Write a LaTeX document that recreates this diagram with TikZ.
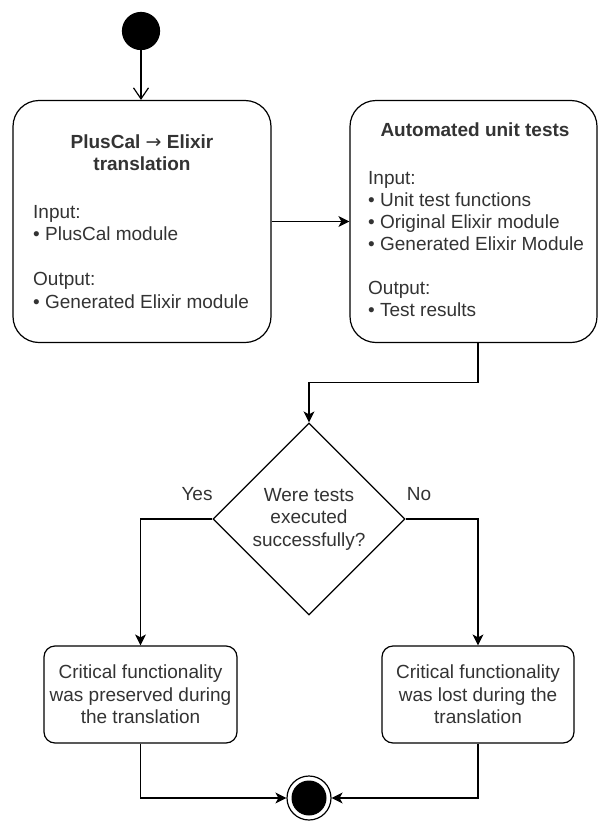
\documentclass[tikz,border=0pt]{standalone}
\usepackage{fontspec}
\setmainfont{Liberation Sans}
\newfontfamily\arrowfont{DejaVu Sans}
\usetikzlibrary{arrows.meta,shapes.geometric,calc}
\definecolor{txt}{HTML}{333333}
\tikzset{
  flow/.style={line width=1.2pt, draw=black},
  arr/.style={-{Stealth[length=11pt,width=11pt,inset=3pt]}},
  openarr/.style={-{Straight Barb[length=11pt,width=15pt]}},
  bigbox/.style={flow, rounded corners=26pt, minimum height=242pt, inner sep=0pt},
  smallbox/.style={flow, rounded corners=11pt, minimum width=193pt, minimum height=97pt,
    align=center, inner sep=0pt},
  decision/.style={flow, diamond, aspect=1, minimum width=192pt, minimum height=192pt,
    inner sep=0pt, align=center},
  title/.style={font=\fontsize{19}{22}\selectfont\bfseries, align=center, inner sep=0pt},
  % multi-line body text: the base anchor sits on the last line's baseline
  body/.style={align=left, anchor=base west, inner sep=0pt},
  lbl/.style={inner sep=0pt},
}
\begin{document}
\begin{tikzpicture}[x=1pt, y=-1pt, font=\fontsize{19}{22.5}\selectfont, text=txt]
\useasboundingbox[fill=white] (0,0) rectangle (598,822);

% start and end markers
\node[flow, circle, fill=black, minimum size=37pt, inner sep=0pt] (start) at (141,31) {};
\node[flow, circle, minimum size=44pt, inner sep=0pt,
  path picture={\fill[black] (path picture bounding box.center) circle (17.5pt);}] (end) at (309,798) {};

% translation step
\node[bigbox, minimum width=258pt] (trans) at (142,221.5) {};
\node[title] (transtitle) at (142,153) {PlusCal {\arrowfont\mdseries →} Elixir\\translation};
\node[body] (transbody) at (33,308) {Input:\\• PlusCal module\\[22.5pt]Output:\\• Generated Elixir module};

% unit test step
\node[bigbox, minimum width=247pt] (tests) at (473.5,221.5) {};
\node[title] (teststitle) at (475,130) {Automated unit tests};
\node[body, font=\fontsize{19}{22}\selectfont] (testsbody) at (368,316)
  {Input:\\• Unit test functions\\• Original Elixir module\\• Generated Elixir Module\\[22pt]Output:\\• Test results};

% decision and outcomes
\node[decision] (dec) at (309,519) {Were tests\\executed\\successfully?};
\node[smallbox] (ok) at (140.5,694.5) {Critical functionality\\was preserved during\\the translation};
\node[smallbox, minimum width=192pt] (lost) at (478,694.5) {Critical functionality\\was lost during the\\translation};

\node[lbl] (yes) at (197,494) {Yes};
\node[lbl] (no) at (419,494) {No};

% connectors
\draw[flow, openarr] (start) -- (trans.north -| start);
\draw[flow, arr] (trans.east) -- (tests.west);
\draw[flow, arr] ($(tests.south)+(4.5,0)$) -- ++(0,39.5) -| (dec.north);
\draw[flow, arr] (dec.west) -| (ok.north);
\draw[flow, arr] (dec.east) -| (lost.north);
\draw[flow, arr] (ok.south) |- (end.west);
\draw[flow, arr] (lost.south) |- (end.east);
\end{tikzpicture}
\end{document}
